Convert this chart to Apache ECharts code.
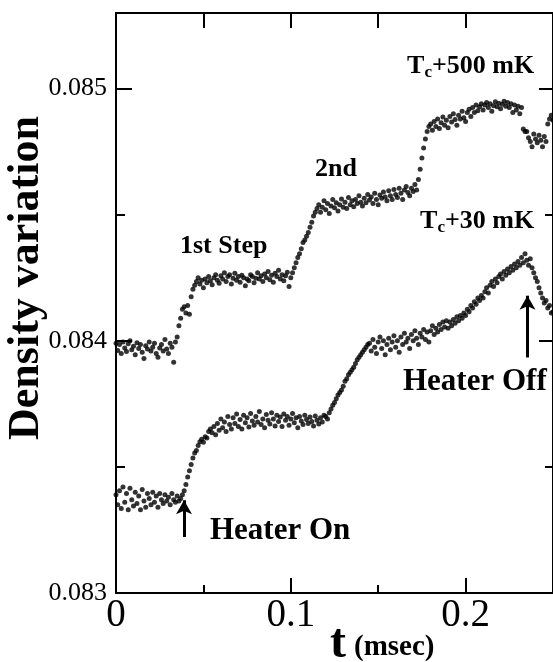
<!DOCTYPE html>
<html>
<head>
<meta charset="utf-8">
<script src="https://cdn.jsdelivr.net/npm/echarts/dist/echarts.min.js"></script>
<style>
  html, body { margin: 0; padding: 0; background: #fff; }
  #chart { width: 553px; height: 662px; }
</style>
</head>
<body>
<div id="chart"></div>
<script>
// sample times: t = t0 + i*dt (msec)
var t0 = 0;
var dt = 0.001;

// Tc+500 mK trace (upper)
var tc500 = [
  0.083990, 0.083962, 0.083985, 0.083950, 0.083995, 0.083972, 0.083958, 0.083988, 0.084000, 0.083965,
  0.083978, 0.083945, 0.083992, 0.083970, 0.083985, 0.083955, 0.083930, 0.083980, 0.083968, 0.083995,
  0.083960, 0.083975, 0.083990, 0.083950, 0.083935, 0.083972, 0.083985, 0.083960, 0.084005, 0.083968,
  0.083950, 0.083990, 0.083975, 0.083915, 0.083995, 0.084015, 0.084060, 0.084090, 0.084125, 0.084135,
  0.084110, 0.084140, 0.084105, 0.084175, 0.084205, 0.084220, 0.084235, 0.084250, 0.084225, 0.084240,
  0.084210, 0.084245, 0.084230, 0.084255, 0.084238, 0.084222, 0.084250, 0.084262, 0.084240, 0.084228,
  0.084258, 0.084245, 0.084270, 0.084235, 0.084255, 0.084262, 0.084225, 0.084248, 0.084268, 0.084240,
  0.084255, 0.084232, 0.084260, 0.084250, 0.084218, 0.084245, 0.084238, 0.084262, 0.084255, 0.084230,
  0.084248, 0.084270, 0.084245, 0.084258, 0.084235, 0.084265, 0.084250, 0.084275, 0.084242, 0.084260,
  0.084232, 0.084268, 0.084255, 0.084280, 0.084245, 0.084262, 0.084238, 0.084258, 0.084272, 0.084215,
  0.084250, 0.084270, 0.084290, 0.084310, 0.084330, 0.084345, 0.084365, 0.084390, 0.084400, 0.084415,
  0.084430, 0.084450, 0.084470, 0.084495, 0.084510, 0.084525, 0.084540, 0.084510, 0.084530, 0.084555,
  0.084520, 0.084545, 0.084505, 0.084535, 0.084560, 0.084528, 0.084548, 0.084515, 0.084540, 0.084562,
  0.084530, 0.084550, 0.084525, 0.084568, 0.084540, 0.084555, 0.084532, 0.084560, 0.084545, 0.084575,
  0.084550, 0.084535, 0.084565, 0.084548, 0.084580, 0.084558, 0.084570, 0.084545, 0.084585, 0.084560,
  0.084540, 0.084578, 0.084565, 0.084590, 0.084570, 0.084555, 0.084595, 0.084575, 0.084560, 0.084600,
  0.084580, 0.084568, 0.084605, 0.084585, 0.084560, 0.084598, 0.084612, 0.084588, 0.084575, 0.084605,
  0.084592, 0.084620, 0.084598, 0.084640, 0.084680, 0.084725, 0.084765, 0.084800, 0.084830, 0.084850,
  0.084860, 0.084835, 0.084870, 0.084850, 0.084880, 0.084842, 0.084865, 0.084888, 0.084855, 0.084875,
  0.084845, 0.084890, 0.084868, 0.084900, 0.084878, 0.084855, 0.084895, 0.084880, 0.084910, 0.084885,
  0.084870, 0.084905, 0.084918, 0.084890, 0.084925, 0.084905, 0.084935, 0.084912, 0.084928, 0.084940,
  0.084915, 0.084935, 0.084945, 0.084925, 0.084940, 0.084910, 0.084932, 0.084948, 0.084928, 0.084942,
  0.084920, 0.084938, 0.084950, 0.084930, 0.084945, 0.084925, 0.084940, 0.084905, 0.084935, 0.084915,
  0.084930, 0.084900, 0.084925, 0.084840, 0.084830, 0.084830, 0.084805, 0.084790, 0.084770, 0.084820,
  0.084800, 0.084785, 0.084815, 0.084795, 0.084770, 0.084810, 0.084790, 0.084860, 0.084880, 0.084895,
  0.084875
];

// Tc+30 mK trace (lower)
var tc30 = [
  0.083390, 0.083350, 0.083405, 0.083335, 0.083420, 0.083360, 0.083395, 0.083330, 0.083415, 0.083370,
  0.083345, 0.083400, 0.083355, 0.083385, 0.083330, 0.083410, 0.083365, 0.083340, 0.083395, 0.083375,
  0.083350, 0.083400, 0.083360, 0.083385, 0.083340, 0.083395, 0.083370, 0.083355, 0.083390, 0.083365,
  0.083380, 0.083350, 0.083395, 0.083370, 0.083360, 0.083385, 0.083365, 0.083375, 0.083390, 0.083405,
  0.083430, 0.083460, 0.083485, 0.083510, 0.083535, 0.083555, 0.083565, 0.083585, 0.083600, 0.083610,
  0.083598, 0.083620, 0.083615, 0.083640, 0.083650, 0.083635, 0.083660, 0.083628, 0.083672, 0.083645,
  0.083690, 0.083655, 0.083678, 0.083640, 0.083700, 0.083668, 0.083650, 0.083695, 0.083672, 0.083710,
  0.083660, 0.083688, 0.083650, 0.083705, 0.083675, 0.083695, 0.083658, 0.083712, 0.083682, 0.083665,
  0.083700, 0.083678, 0.083720, 0.083668, 0.083690, 0.083655, 0.083708, 0.083685, 0.083670, 0.083715,
  0.083690, 0.083662, 0.083705, 0.083680, 0.083698, 0.083660, 0.083710, 0.083685, 0.083700, 0.083665,
  0.083690, 0.083712, 0.083675, 0.083695, 0.083655, 0.083700, 0.083682, 0.083668, 0.083705, 0.083688,
  0.083672, 0.083698, 0.083680, 0.083662, 0.083702, 0.083685, 0.083670, 0.083695, 0.083678, 0.083705,
  0.083700, 0.083690, 0.083715, 0.083730, 0.083745, 0.083755, 0.083770, 0.083785, 0.083795, 0.083805,
  0.083820, 0.083840, 0.083850, 0.083865, 0.083875, 0.083885, 0.083895, 0.083910, 0.083925, 0.083935,
  0.083945, 0.083955, 0.083965, 0.083975, 0.083985, 0.083990, 0.083960, 0.084005, 0.083975, 0.083950,
  0.083995, 0.084015, 0.083970, 0.084000, 0.083945, 0.083985, 0.084010, 0.083965, 0.083995, 0.084020,
  0.083975, 0.084000, 0.083955, 0.084015, 0.083985, 0.084030, 0.083995, 0.084010, 0.083970, 0.084025,
  0.084000, 0.084040, 0.084010, 0.083985, 0.084030, 0.084015, 0.084045, 0.084005, 0.084035, 0.083995,
  0.084040, 0.084060, 0.084025, 0.084050, 0.084035, 0.084065, 0.084045, 0.084075, 0.084055, 0.084080,
  0.084050, 0.084075, 0.084060, 0.084085, 0.084070, 0.084095, 0.084080, 0.084100, 0.084090, 0.084110,
  0.084100, 0.084125, 0.084115, 0.084140, 0.084130, 0.084155, 0.084145, 0.084170, 0.084160, 0.084180,
  0.084170, 0.084195, 0.084210, 0.084190, 0.084220, 0.084235, 0.084215, 0.084245, 0.084230, 0.084255,
  0.084265, 0.084245, 0.084275, 0.084260, 0.084285, 0.084270, 0.084295, 0.084280, 0.084305, 0.084290,
  0.084315, 0.084300, 0.084330, 0.084310, 0.084345, 0.084320, 0.084300, 0.084325, 0.084290, 0.084270,
  0.084250, 0.084235, 0.084210, 0.084190, 0.084170, 0.084150, 0.084160, 0.084130, 0.084140, 0.084110,
  0.084115
];

// arrows: [t, from, to]
var heaterOnArrow = [0.0389, 0.083222, 0.083368];
var heaterOffArrow = [0.2354, 0.083934, 0.084179];

var xMin = 0, xMax = 0.25;
var yMin = 0.083, yMax = 0.0853;

function toPoints(arr) {
  return arr.map(function (v, i) { return [t0 + i * dt, v]; });
}

var serif = '"Liberation Serif", "Times New Roman", serif';
var black = '#000';

function plainAxis(extra) {
  var a = {
    type: 'value',
    axisLine: { show: false, onZero: false },
    axisTick: { show: true, inside: true, length: 8, lineStyle: { color: black, width: 2 } },
    axisLabel: { show: false },
    splitLine: { show: false }
  };
  for (var k in extra) a[k] = extra[k];
  return a;
}

function txt(x, y, s, size) {
  return {
    type: 'text', x: x, y: y, z: 100,
    style: {
      text: s, fill: black,
      font: 'bold ' + size + 'px ' + serif,
      textAlign: 'left', textVerticalAlign: 'middle'
    }
  };
}

var chart = echarts.init(document.getElementById('chart'));

var option = {
  animation: false,
  backgroundColor: '#fff',
  grid: { left: 116, top: 13, width: 438, height: 580, containLabel: false },
  xAxis: [
    {
      type: 'value', position: 'bottom', min: xMin, max: xMax, interval: 0.1,
      axisLine: { onZero: false, lineStyle: { color: black, width: 2 } },
      axisTick: { inside: true, length: 15, lineStyle: { color: black, width: 2 } },
      axisLabel: {
        fontFamily: serif, fontSize: 39, color: black, margin: 3, showMaxLabel: false,
        formatter: function (v) { return String(+v.toFixed(1)); }
      },
      splitLine: { show: false }
    },
    plainAxis({ position: 'bottom', min: xMin, max: xMax, interval: 0.05 }),
    plainAxis({
      position: 'top', min: xMin, max: xMax, interval: 0.05,
      axisLine: { show: true, onZero: false, lineStyle: { color: black, width: 2 } },
      axisTick: { show: true, inside: true, length: 15, lineStyle: { color: black, width: 2 } }
    })
  ],
  yAxis: [
    {
      type: 'value', position: 'left', min: yMin, max: yMax, interval: 0.001,
      axisLine: { onZero: false, lineStyle: { color: black, width: 2 } },
      axisTick: { inside: true, length: 16, lineStyle: { color: black, width: 2 } },
      axisLabel: {
        fontFamily: serif, fontSize: 26, color: black, margin: 9, showMaxLabel: false,
        formatter: function (v) { return v.toFixed(3); }
      },
      splitLine: { show: false }
    },
    plainAxis({ position: 'left', min: yMin, max: yMax, interval: 0.0005,
      axisTick: { show: true, inside: true, length: 9, lineStyle: { color: black, width: 2 } } }),
    plainAxis({
      position: 'right', min: yMin, max: yMax, interval: 0.001,
      axisLine: { show: true, onZero: false, lineStyle: { color: black, width: 2 } },
      axisTick: { show: true, inside: true, length: 14, lineStyle: { color: black, width: 2 } }
    }),
    plainAxis({ position: 'right', min: yMin, max: yMax, interval: 0.0005 })
  ],
  graphic: [
    // y axis title
    {
      type: 'text', x: 27, y: 278, rotation: Math.PI / 2, z: 100,
      style: { text: 'Density variation', fill: black, font: 'bold 44px ' + serif,
        textAlign: 'center', textVerticalAlign: 'middle' }
    },
    // x axis title
    txt(330, 645, 't', 48),
    txt(354, 648, '(msec)', 29),
    // annotations
    txt(407, 66, 'T', 26), txt(424.5, 73, 'c', 17), txt(432, 66, '+500 mK', 26),
    txt(315, 169, '2nd', 26),
    txt(180, 246, '1st Step', 26),
    txt(420, 221, 'T', 26), txt(437.5, 228, 'c', 17), txt(445, 221, '+30 mK', 26),
    txt(403, 382, 'Heater Off', 31),
    txt(210, 531, 'Heater On', 31)
  ],
  series: [
    {
      name: 'Tc+500 mK', type: 'scatter', xAxisIndex: 0, yAxisIndex: 0,
      data: toPoints(tc500), symbol: 'circle', symbolSize: 5,
      itemStyle: { color: black }, silent: true
    },
    {
      name: 'Tc+30 mK', type: 'scatter', xAxisIndex: 0, yAxisIndex: 0,
      data: toPoints(tc30), symbol: 'circle', symbolSize: 5,
      itemStyle: { color: black }, silent: true,
      markLine: {
        silent: true, animation: false,
        symbol: ['none', 'arrow'], symbolSize: [12, 14],
        label: { show: false },
        lineStyle: { color: black, width: 3, type: 'solid' },
        data: [
          [{ coord: [heaterOnArrow[0], heaterOnArrow[1]] }, { coord: [heaterOnArrow[0], heaterOnArrow[2]] }],
          [{ coord: [heaterOffArrow[0], heaterOffArrow[1]] }, { coord: [heaterOffArrow[0], heaterOffArrow[2]] }]
        ]
      }
    }
  ]
};

chart.setOption(option);
</script>
</body>
</html>
